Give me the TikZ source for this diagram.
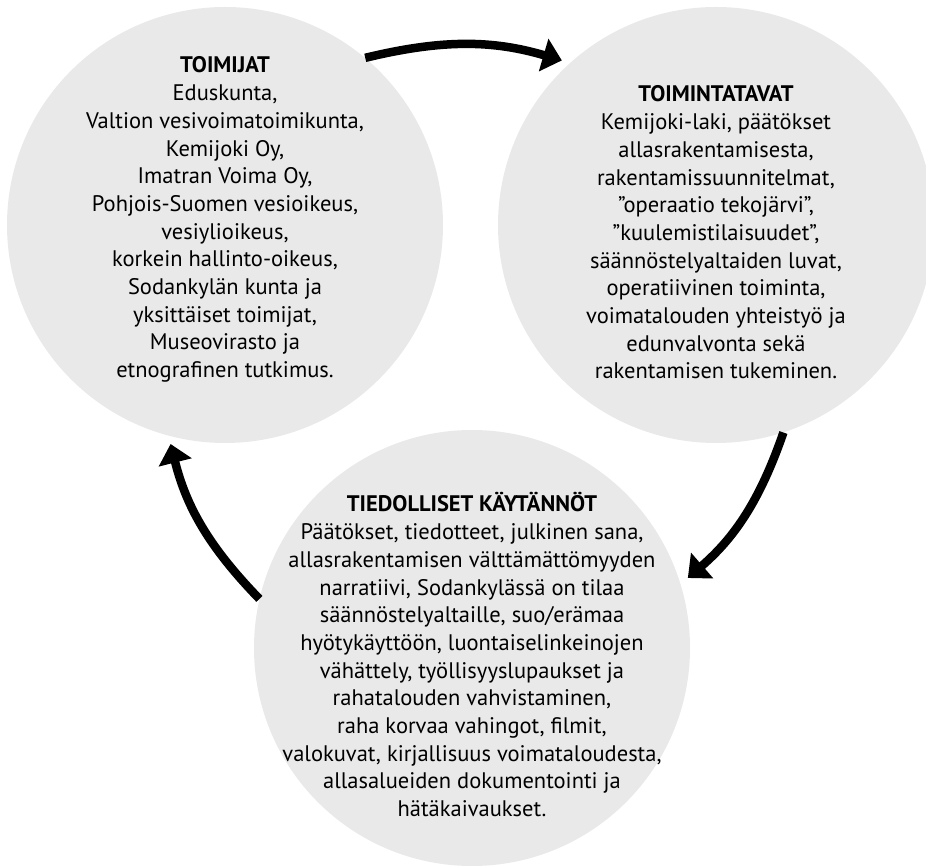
\documentclass[tikz,border=0pt]{standalone}
\usepackage{fontspec}
\setmainfont{PT Sans}
\usetikzlibrary{arrows.meta}
\definecolor{cgray}{RGB}{233,233,233}
\tikzset{
  bubble/.style={circle, fill=cgray, minimum size=436pt, inner sep=0pt, draw=none},
  txt/.style={align=center, anchor=north, inner sep=0pt, font=\fontsize{22.5}{27.7}\selectfont},
  arr/.style={line width=8.5pt, -{Triangle[length=19pt,width=33pt]}, black},
}
\begin{document}
\begin{tikzpicture}[x=1pt,y=1pt]
\useasboundingbox (0,0) rectangle (926,865);
\node[bubble] (c1) at (225,640) {};
\node[bubble] (c2) at (716,640) {};
\node[bubble] (c3) at (472,217) {};
\node[txt] (t1) at (225,811.6) {\strut\textbf{TOIMIJAT}\\
Eduskunta,\\
Valtion vesivoimatoimikunta,\\
Kemijoki Oy,\\
Imatran Voima Oy,\\
Pohjois-Suomen vesioikeus,\\
vesiylioikeus,\\
korkein hallinto-oikeus,\\
Sodankylän kunta ja\\
yksittäiset toimijat,\\
Museovirasto ja\\
etnografinen tutkimus.};
\node[txt] (t2) at (716,782.6) {\strut\textbf{TOIMINTATAVAT}\\
Kemijoki-laki, päätökset\\
allasrakentamisesta,\\
rakentamissuunnitelmat,\\
”operaatio tekojärvi”,\\
”kuulemistilaisuudet”,\\
säännöstelyaltaiden luvat,\\
operatiivinen toiminta,\\
voimatalouden yhteistyö ja\\
edunvalvonta sekä\\
rakentamisen tukeminen.};
\node[txt] (t3) at (472,372.6) {\strut\textbf{TIEDOLLISET KÄYTÄNNÖT}\\
Päätökset, tiedotteet, julkinen sana,\\
allasrakentamisen välttämättömyyden\\
narratiivi, Sodankylässä on tilaa\\
säännöstelyaltaille, suo/erämaa\\
hyötykäyttöön, luontaiselinkeinojen\\
vähättely, työllisyyslupaukset ja\\
rahatalouden vahvistaminen,\\
raha korvaa vahingot, filmit,\\
valokuvat, kirjallisuus voimataloudesta,\\
allasalueiden dokumentointi ja\\
hätäkaivaukset.};
\draw[arr, shorten >=8.5pt] (c1.50) to[bend left=15] (c2.132);
\draw[arr, shorten >=9.5pt] (c2.288) to[bend left=15] (c3.17);
\draw[arr, shorten >=8.5pt] (c3.167) to[bend left=15] (c1.255);
\end{tikzpicture}
\end{document}
